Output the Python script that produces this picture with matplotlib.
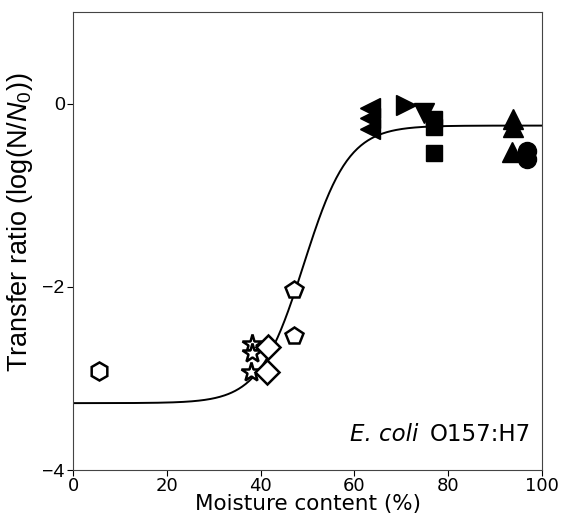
import numpy as np
import matplotlib
matplotlib.use('Agg')
import matplotlib.pyplot as plt
from matplotlib.offsetbox import TextArea, HPacker, AnchoredOffsetbox

plt.rcParams['font.family'] = ['DejaVu Sans']
plt.rcParams['mathtext.fontset'] = 'custom'
plt.rcParams['mathtext.rm'] = 'Liberation Sans'
plt.rcParams['mathtext.it'] = 'Liberation Sans:italic'

# Measured transfer ratios, grouped by surface type (marker)
hex_x = [5.5]
hex_y = [-2.92]
star_x = [38.2, 38.2, 38.0]
star_y = [-2.62, -2.72, -2.93]
diamond_x = [41.5, 41.4]
diamond_y = [-2.66, -2.93]
pent_x = [47.1, 47.2]
pent_y = [-2.03, -2.54]
left_x = [63.3, 63.3, 63.3]
left_y = [-0.05, -0.16, -0.28]
right_x = [71.0]
right_y = [-0.01]
down_x = [74.8]
down_y = [-0.10]
square_x = [77.0, 77.0, 77.0]
square_y = [-0.17, -0.26, -0.54]
up_x = [93.8, 93.8, 93.6]
up_y = [-0.17, -0.25, -0.53]
circle_x = [96.8, 96.8]
circle_y = [-0.52, -0.61]

# Logistic fit parameters
y_low, y_high = -3.27, -0.24
x_mid, slope = 49.2, 0.21

fig = plt.figure(figsize=(5.62, 5.22), dpi=100)
ax = fig.add_axes([0.13, 0.0996, 0.8344, 0.8774])

xs = np.linspace(0, 100, 400)
ys = y_low + (y_high - y_low) / (1 + np.exp(-slope * (xs - x_mid)))
ax.plot(xs, ys, color='black', lw=1.4, zorder=1)

open_kw = dict(ls='none', mfc='white', mec='black', mew=1.8, ms=13, zorder=3)
ax.plot(hex_x, hex_y, marker='h', **open_kw)
ax.plot(star_x, star_y, marker='*', **{**open_kw, 'ms': 15})
ax.plot(diamond_x, diamond_y, marker='D', **{**open_kw, 'ms': 12})
ax.plot(pent_x, pent_y, marker='p', **open_kw)

fill_kw = dict(ls='none', color='black', ms=14, zorder=3)
ax.plot(left_x, left_y, marker='<', **fill_kw)
ax.plot(right_x, right_y, marker='>', **fill_kw)
ax.plot(down_x, down_y, marker='v', **fill_kw)
ax.plot(square_x, square_y, marker='s', **{**fill_kw, 'ms': 12})
ax.plot(up_x, up_y, marker='^', **fill_kw)
ax.plot(circle_x, circle_y, marker='o', **{**fill_kw, 'ms': 13})

ax.set_xlim(0, 100)
ax.set_ylim(-4, 1)
ax.set_xticks([0, 20, 40, 60, 80, 100])
ax.set_yticks([0, -2, -4])
ax.tick_params(axis='x', labelsize=13, length=4, pad=1)
ax.tick_params(axis='y', labelsize=14, length=4, pad=2)
for lab in ax.get_yticklabels():
    lab.set_fontfamily('Liberation Sans')
for sp in ax.spines.values():
    sp.set_color('#444444')

ax.set_xlabel('Moisture content (%)', fontsize=15.5, labelpad=-1)
ax.set_ylabel(r'Transfer ratio (log(N/$\mathit{N}_0$))', fontsize=19.5)
ax.yaxis.label.set_fontfamily('Liberation Sans')
ax.yaxis.set_label_coords(-0.082, 0.54)

# Organism label, italic genus/species followed by serotype
name = TextArea('E. coli', textprops=dict(fontsize=16.5, style='italic'))
sero = TextArea('O157:H7', textprops=dict(fontsize=16.5))
box = HPacker(children=[name, sero], align='baseline', pad=0, sep=8)
anchored = AnchoredOffsetbox(loc='lower right', child=box, frameon=False,
                             bbox_to_anchor=(0.988, 0.04), bbox_transform=ax.transAxes,
                             borderpad=0)
ax.add_artist(anchored)

fig.savefig('out.png', dpi=100)
